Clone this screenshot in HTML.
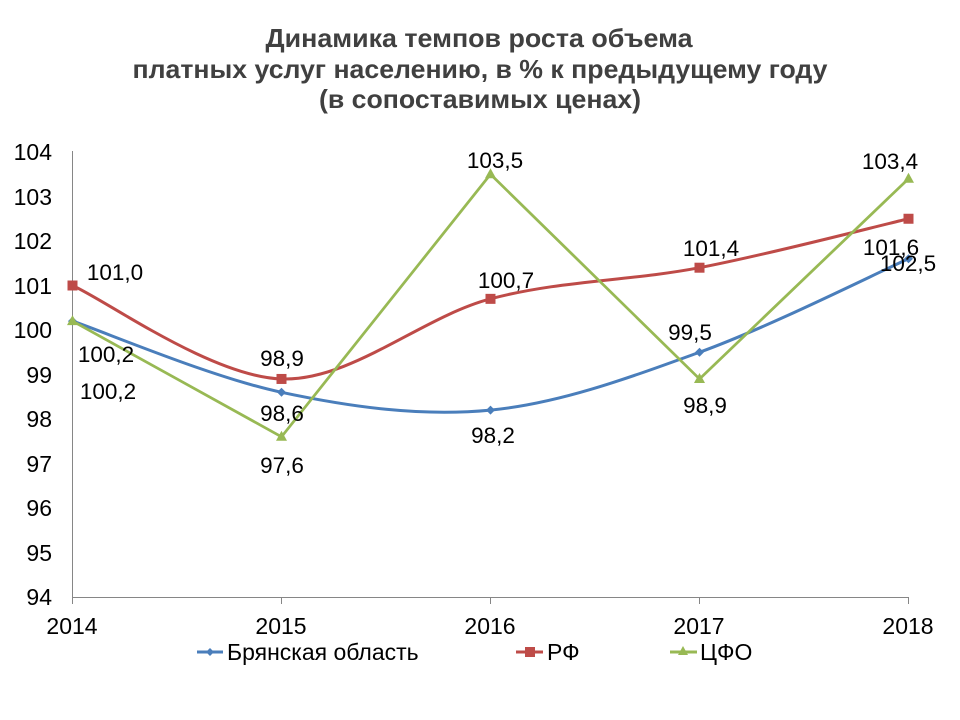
<!DOCTYPE html>
<html><head><meta charset="utf-8"><style>
html,body{margin:0;padding:0;background:#fff;}
svg{display:block;}
text{font-family:"Liberation Sans","DejaVu Sans",sans-serif;}
</style></head><body>
<svg width="960" height="720" viewBox="0 0 960 720" xmlns="http://www.w3.org/2000/svg">
<rect width="960" height="720" fill="#fff"/>
<!-- Title -->
<g font-weight="bold" font-size="26" fill="#404040" text-anchor="middle">
<text x="479" y="47" textLength="427" lengthAdjust="spacingAndGlyphs">Динамика темпов роста объема</text>
<text x="480" y="78" textLength="695" lengthAdjust="spacingAndGlyphs">платных услуг населению, в % к предыдущему году</text>
<text x="480" y="108" textLength="322" lengthAdjust="spacingAndGlyphs">(в сопоставимых ценах)</text>
</g>
<!-- Axes -->
<g stroke="#868686" stroke-width="1" fill="none">
<line x1="72.5" y1="151" x2="72.5" y2="597.5"/>
<line x1="72" y1="597.5" x2="909" y2="597.5"/>
<line x1="72.5" y1="597" x2="72.5" y2="604"/>
<line x1="281.5" y1="597" x2="281.5" y2="604"/>
<line x1="490.5" y1="597" x2="490.5" y2="604"/>
<line x1="699.5" y1="597" x2="699.5" y2="604"/>
<line x1="908.5" y1="597" x2="908.5" y2="604"/>
</g>
<!-- Y labels -->
<g font-size="23" fill="#000" text-anchor="end">
<text x="52" y="160">104</text>
<text x="52" y="205">103</text>
<text x="52" y="249">102</text>
<text x="52" y="294">101</text>
<text x="52" y="338">100</text>
<text x="52" y="383">99</text>
<text x="52" y="427">98</text>
<text x="52" y="472">97</text>
<text x="52" y="516">96</text>
<text x="52" y="561">95</text>
<text x="52" y="605">94</text>
</g>
<!-- X labels -->
<g font-size="23" fill="#000" text-anchor="middle">
<text x="72" y="634">2014</text>
<text x="281" y="634">2015</text>
<text x="490" y="634">2016</text>
<text x="699" y="634">2017</text>
<text x="908" y="634">2018</text>
</g>
<!-- Series: Bryansk (blue, smooth) -->
<path d="M72.5,321.1 C107.3,333.0 211.8,377.5 281.5,392.3 C351.2,407.1 420.8,416.8 490.5,410.1 C560.2,403.4 629.8,377.5 699.5,352.25 C769.2,327.0 873.7,274.4 908.5,258.8" fill="none" stroke="#4A7EBB" stroke-width="3" stroke-linejoin="round"/>
<!-- Series: RF (red, smooth) -->
<path d="M72.5,285.5 C107.3,301.1 211.8,376.7 281.5,378.95 C351.2,381.2 420.8,317.4 490.5,298.85 C560.2,280.3 629.8,281.05 699.5,267.7 C769.2,254.35 873.7,226.9 908.5,218.75" fill="none" stroke="#BE4B48" stroke-width="3" stroke-linejoin="round"/>
<!-- Series: CFO (green, straight) -->
<polyline points="72.5,321.1 281.5,436.8 490.5,174.25 699.5,378.95 908.5,178.7" fill="none" stroke="#98B954" stroke-width="2.75" stroke-linejoin="round"/>
<!-- Markers blue diamonds -->
<g fill="#4A7EBB">
<polygon points="72.5,316.6 77,321.1 72.5,325.6 68,321.1"/>
<polygon points="281.5,387.8 286,392.3 281.5,396.8 277,392.3"/>
<polygon points="490.5,405.6 495,410.1 490.5,414.6 486,410.1"/>
<polygon points="699.5,347.75 704,352.25 699.5,356.75 695,352.25"/>
<polygon points="908.5,254.3 913,258.8 908.5,263.3 904,258.8"/>
</g>
<!-- Markers red squares -->
<g fill="#BE4B48">
<rect x="67.5" y="280.5" width="10" height="10"/>
<rect x="276.5" y="373.95" width="10" height="10"/>
<rect x="485.5" y="293.85" width="10" height="10"/>
<rect x="694.5" y="262.7" width="10" height="10"/>
<rect x="903.5" y="213.75" width="10" height="10"/>
</g>
<!-- Markers green triangles -->
<g fill="#98B954">
<polygon points="72.5,315.1 78,325.1 67,325.1"/>
<polygon points="281.5,430.8 287,440.8 276,440.8"/>
<polygon points="490.5,168.25 496,178.25 485,178.25"/>
<polygon points="699.5,372.95 705,382.95 694,382.95"/>
<polygon points="908.5,172.7 914,182.7 903,182.7"/>
</g>
<!-- Data labels -->
<g font-size="22.5" fill="#000" text-anchor="middle">
<text x="115" y="280">101,0</text>
<text x="106" y="362">100,2</text>
<text x="108" y="399">100,2</text>
<text x="282" y="366">98,9</text>
<text x="282" y="421">98,6</text>
<text x="282" y="473">97,6</text>
<text x="495" y="168">103,5</text>
<text x="506" y="288">100,7</text>
<text x="493" y="443">98,2</text>
<text x="711" y="256">101,4</text>
<text x="690" y="340">99,5</text>
<text x="705" y="413">98,9</text>
<text x="890" y="169">103,4</text>
<text x="891" y="255">101,6</text>
<text x="908" y="271">102,5</text>
</g>
<!-- Legend -->
<line x1="197" y1="652" x2="223" y2="652" stroke="#4A7EBB" stroke-width="3"/>
<polygon points="210,648 214,652 210,656 206,652" fill="#4A7EBB"/>
<text x="227" y="660" font-size="23" fill="#000">Брянская область</text>
<line x1="516" y1="652" x2="543" y2="652" stroke="#BE4B48" stroke-width="3"/>
<rect x="525" y="647" width="10" height="10" fill="#BE4B48"/>
<text x="547" y="660" font-size="23" fill="#000">РФ</text>
<line x1="670" y1="652" x2="697" y2="652" stroke="#98B954" stroke-width="3"/>
<polygon points="683,646 688,655 678,655" fill="#98B954"/>
<text x="700" y="660" font-size="23" fill="#000">ЦФО</text>
</svg>
</body></html>
